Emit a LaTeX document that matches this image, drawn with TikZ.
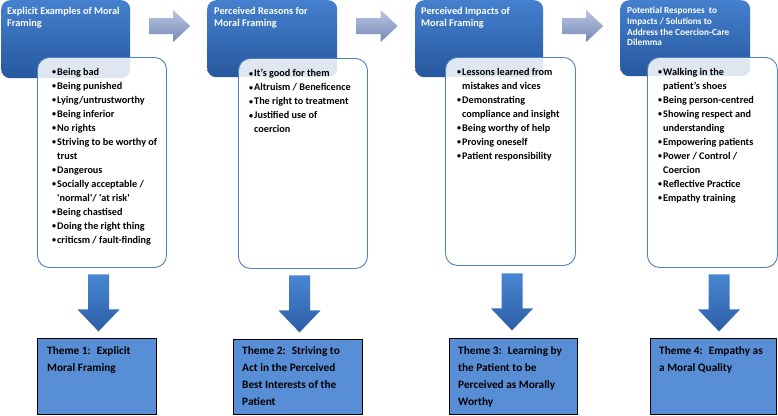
\documentclass[tikz,border=0pt]{standalone}
\usepackage{fontspec}
\setmainfont{Carlito}
\usetikzlibrary{calc}

\definecolor{headtop}{RGB}{68,128,206}
\definecolor{headbot}{RGB}{38,88,158}
\definecolor{listline}{RGB}{79,129,189}
\definecolor{themefill}{RGB}{88,142,214}
\definecolor{downtop}{RGB}{72,134,210}
\definecolor{downbot}{RGB}{44,94,166}
\definecolor{righttop}{RGB}{186,198,224}
\definecolor{rightbot}{RGB}{118,138,184}

\newcommand{\bul}{\makebox[5pt][l]{\raisebox{0.5pt}{\fontsize{8}{8}\selectfont\textbullet}}}
\newcommand{\hang}{\hspace*{5pt}}

\tikzset{
  head/.style={rectangle, rounded corners=9pt, top color=headtop, bottom color=headbot,
    inner sep=0pt, anchor=north west},
  headtext/.style={anchor=north west, inner sep=0pt, align=left, text=white,
    font=\fontsize{10.3}{12}\selectfont\bfseries},
  listbox/.style={rectangle, rounded corners=12pt, draw=listline, line width=0.9pt,
    fill=white, fill opacity=0.85, inner sep=0pt, anchor=north west},
  listtext/.style={anchor=north west, inner sep=0pt, align=left,
    font=\fontsize{10.2}{14}\selectfont\bfseries},
  theme/.style={rectangle, draw=black, line width=1.2pt, fill=themefill,
    inner sep=0pt, anchor=north west},
  themetext/.style={anchor=north west, inner sep=0pt, align=left,
    font=\fontsize{11.3}{17}\selectfont\bfseries},
  flowright/.style={top color=righttop, bottom color=rightbot},
  flowdown/.style={top color=downtop, bottom color=downbot}
}

\begin{document}
\begin{tikzpicture}[x=1pt, y=-1pt]
\useasboundingbox (0,0) rectangle (778,415);

% headers
\node[head, minimum width=129pt, minimum height=78pt] (h1) at (1,0) {};
\node[head, minimum width=130pt, minimum height=77pt] (h2) at (207,0) {};
\node[head, minimum width=128pt, minimum height=77pt] (h3) at (415,0) {};
\node[head, minimum width=130pt, minimum height=76pt] (h4) at (620,0) {};

\node[headtext] (h1t) at ($(h1.north west)+(6,7)$) {Explicit Examples of Moral\\Framing};
\node[headtext] (h2t) at ($(h2.north west)+(7,7)$) {Perceived Reasons for\\Moral Framing};
\node[headtext] (h3t) at ($(h3.north west)+(6,7)$) {Perceived Impacts of\\Moral Framing};
\node[headtext, font=\fontsize{9.3}{10.7}\selectfont\bfseries] (h4t) at ($(h4.north west)+(7,7)$) {Potential Responses~ to\\Impacts / Solutions to\\Address the Coercion-Care\\Dilemma};

% lists
\node[listbox, minimum width=129pt, minimum height=210pt] (w1) at (37,57) {};
\node[listbox, minimum width=129pt, minimum height=210pt] (w2) at (238,58) {};
\node[listbox, minimum width=130pt, minimum height=208pt] (w3) at (445,57) {};
\node[listbox, minimum width=130pt, minimum height=210pt] (w4) at (647,57) {};

\node[listtext] (w1t) at ($(w1.north west)+(15,11)$) {%
\bul Being bad\\
\bul Being punished\\
\bul Lying/untrustworthy\\
\bul Being inferior\\
\bul No rights\\
\bul Striving to be worthy of\\
\hang trust\\
\bul Dangerous\\
\bul Socially acceptable /\\
\hang \textquotesingle normal\textquotesingle/ \textquotesingle at risk\textquotesingle\\
\bul Being chastised\\
\bul Doing the right thing\\
\bul criticsm / fault-finding};
\node[listtext] (w2t) at ($(w2.north west)+(11,11)$) {%
\bul It's good for them\\
\bul Altruism / Beneficence\\
\bul The right to treatment\\
\bul Justified use of\\
\hang coercion};
\node[listtext] (w3t) at ($(w3.north west)+(12,11)$) {%
\bul Lessons learned from\\
\hang mistakes and vices\\
\bul Demonstrating\\
\hang compliance and insight\\
\bul Being worthy of help\\
\bul Proving oneself\\
\bul Patient responsibility};
\node[listtext] (w4t) at ($(w4.north west)+(11,11)$) {%
\bul Walking in the\\
\hang patient's shoes\\
\bul Being person-centred\\
\bul Showing respect and\\
\hang understanding\\
\bul Empowering patients\\
\bul Power / Control /\\
\hang Coercion\\
\bul Reflective Practice\\
\bul Empathy training};

% themes
\node[theme, minimum width=119pt, minimum height=76pt] (t1) at (37,338) {};
\node[theme, minimum width=129pt, minimum height=75pt] (t2) at (233,339) {};
\node[theme, minimum width=128pt, minimum height=76pt] (t3) at (449,338) {};
\node[theme, minimum width=126pt, minimum height=76pt] (t4) at (650,338) {};

\node[themetext] (t1t) at ($(t1.north west)+(10,8)$) {Theme 1:~ Explicit\\Moral Framing};
\node[themetext] (t2t) at ($(t2.north west)+(9,7)$) {Theme 2:~ Striving to\\Act in the Perceived\\Best Interests of the\\Patient};
\node[themetext] (t3t) at ($(t3.north west)+(9,8)$) {Theme 3:~ Learning by\\the Patient to be\\Perceived as Morally\\Worthy};
\node[themetext] (t4t) at ($(t4.north west)+(9,8)$) {Theme 4:~ Empathy as\\a Moral Quality};

% arrows between headers
\path[flowright] ($(h1.north east)!.5!(h2.north west)+(1,26)$) ++(-20.5,-8) -- ++(24,0) -- ++(0,-8) -- ++(17,16) -- ++(-17,16) -- ++(0,-8) -- ++(-24,0) -- cycle;
\path[flowright] ($(h2.north east)!.5!(h3.north west)+(1,26)$) ++(-20.5,-8) -- ++(24,0) -- ++(0,-8) -- ++(17,16) -- ++(-17,16) -- ++(0,-8) -- ++(-24,0) -- cycle;
\path[flowright] ($(h3.north east)!.5!(h4.north west)+(1,26)$) ++(-20.5,-8) -- ++(24,0) -- ++(0,-8) -- ++(17,16) -- ++(-17,16) -- ++(0,-8) -- ++(-24,0) -- cycle;

% arrows down to themes
\path[flowdown] ($(w1.south)!.5!(t1.north)+(-1,0)$) ++(-10.5,-28.5) -- ++(21,0) -- ++(0,35) -- ++(10.5,0) -- ++(-21,22) -- ++(-21,-22) -- ++(10.5,0) -- cycle;
\path[flowdown] ($(w2.south)!.5!(t2.north)+(-1,0)$) ++(-10.5,-28.5) -- ++(21,0) -- ++(0,35) -- ++(10.5,0) -- ++(-21,22) -- ++(-21,-22) -- ++(10.5,0) -- cycle;
\path[flowdown] ($(w3.south)!.5!(t3.north)$) ++(-10.5,-28.5) -- ++(21,0) -- ++(0,35) -- ++(10.5,0) -- ++(-21,22) -- ++(-21,-22) -- ++(10.5,0) -- cycle;
\path[flowdown] ($(w4.south)!.5!(t4.north)+(6,0)$) ++(-10.5,-28.5) -- ++(21,0) -- ++(0,35) -- ++(10.5,0) -- ++(-21,22) -- ++(-21,-22) -- ++(10.5,0) -- cycle;
\end{tikzpicture}
\end{document}
